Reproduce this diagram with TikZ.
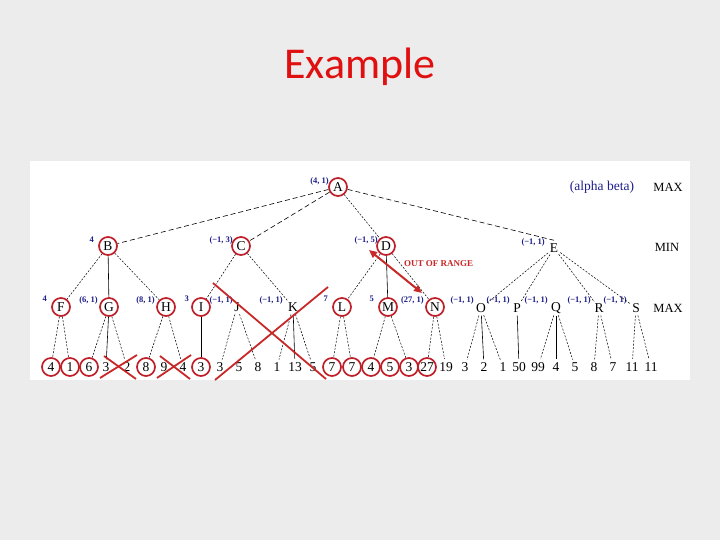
\documentclass[tikz,border=0pt]{standalone}
\usepackage{fontspec}
\setmainfont{Liberation Serif}
\newfontfamily\titlefont{Carlito}
\usetikzlibrary{arrows.meta}
\definecolor{bgc}{RGB}{236,236,236}
\definecolor{titlered}{RGB}{224,16,16}
\definecolor{ringred}{RGB}{190,30,40}
\definecolor{lblblue}{RGB}{30,30,140}
\definecolor{crossred}{RGB}{200,40,40}
\begin{document}
\begin{tikzpicture}[x=1pt,y=-1pt,
  circ/.style={circle,draw=ringred,line width=1.7pt,minimum size=18pt,inner sep=0pt,font=\fontsize{13.5}{13.5}\selectfont},
  plain/.style={circle,minimum size=15pt,inner sep=0pt,font=\fontsize{13.5}{13.5}\selectfont},
  lbl/.style={text=lblblue,font=\fontsize{8.5}{8.5}\selectfont\bfseries,inner sep=0pt},
  side/.style={font=\fontsize{12.5}{12.5}\selectfont,inner sep=0pt},
  ed/.style={draw,line width=0.5pt,dash pattern=on 2pt off 1.5pt},
  edl/.style={draw,line width=0.6pt,dash pattern=on 5pt off 3pt},
  eds/.style={draw,line width=0.6pt},
  crossline/.style={draw=crossred,line width=1.8pt}]
\useasboundingbox (0,0) rectangle (720,540);
\fill[bgc] (0,0) rectangle (720,540);
\fill[white] (30,161) rectangle (690,380);
\node[font=\titlefont\fontsize{44}{44}\selectfont,text=titlered] (title) at (360,67) {Example};
% level 1
\node[circ] (A) at (338,187) {A};
\node[lbl,anchor=east] (lA) at (329,181) {(4, 1)};
% level 2
\node[circ] (B) at (108,246) {B};
\node[circ] (C) at (241,246) {C};
\node[circ] (D) at (386,246) {D};
\node[plain] (E) at (554,248) {E};
\node[lbl,anchor=east] (lB) at (94,240) {4};
\node[lbl,anchor=east] (lC) at (233,240) {(−1, 3)};
\node[lbl,anchor=east] (lD) at (378,240) {(−1, 5)};
\node[lbl,anchor=east] (lE) at (545,242) {(−1, 1)};
% level 3
\node[circ] (F) at (61,307) {F};
\node[circ] (G) at (109,307) {G};
\node[circ] (H) at (166,307) {H};
\node[circ] (I) at (201,307) {I};
\node[plain] (J) at (237,307) {J};
\node[plain] (K) at (293,307) {K};
\node[circ] (L) at (342,307) {L};
\node[circ] (M) at (388,307) {M};
\node[circ] (N) at (435,307) {N};
\node[plain] (O) at (481,308) {O};
\node[plain] (P) at (517,308) {P};
\node[plain] (Q) at (556,308) {Q};
\node[plain] (R) at (599,308) {R};
\node[plain] (S) at (636,308) {S};
\node[lbl,anchor=east] (lF) at (47,299) {4};
\node[lbl,anchor=east] (lG) at (98,300) {(6, 1)};
\node[lbl,anchor=east] (lH) at (155,300) {(8, 1)};
\node[lbl,anchor=east] (lI) at (189,299) {3};
\node[lbl,anchor=east] (lJ) at (233,300) {(−1, 1)};
\node[lbl,anchor=east] (lK) at (283,300) {(−1, 1)};
\node[lbl,anchor=east] (lL) at (328,299) {7};
\node[lbl,anchor=east] (lM) at (374,299) {5};
\node[lbl,anchor=east] (lN) at (424,300) {(27, 1)};
\node[lbl,anchor=east] (lO) at (474,300) {(−1, 1)};
\node[lbl,anchor=east] (lP) at (510,300) {(−1, 1)};
\node[lbl,anchor=east] (lQ) at (548,300) {(−1, 1)};
\node[lbl,anchor=east] (lR) at (591,300) {(−1, 1)};
\node[lbl,anchor=east] (lS) at (627,300) {(−1, 1)};
% side labels
\node[text=lblblue,font=\fontsize{13.5}{13.5}\selectfont,inner sep=0pt] (ab) at (602,187) {(alpha beta)};
\node[side] (max1) at (668,187) {MAX};
\node[side] (min1) at (667,247) {MIN};
\node[side] (max2) at (668,308) {MAX};
% leaves
\foreach \i/\x/\v/\s in {0/51/4/circ,1/70/1/circ,2/89/6/circ,3/106/3/plain,4/127/2/plain,
  5/146/8/circ,6/164/9/plain,7/183/4/plain,8/201/3/circ,9/220/3/plain,10/239/5/plain,
  11/258/8/plain,12/277/1/plain,13/295/13/plain,14/313/5/plain,15/332/7/circ,16/352/7/circ,
  17/371/4/circ,18/390/5/circ,19/409/3/circ,20/427/27/circ,21/446/19/plain,22/465/3/plain,
  23/484/2/plain,24/503/1/plain,25/519/50/plain,26/538/99/plain,27/556/4/plain,28/575/5/plain,
  29/594/8/plain,30/613/7/plain,31/632/11/plain,32/651/11/plain}
  \node[\s] (l\i) at (\x,367) {\v};
% level 1 -> 2
\draw[edl] (A) -- (B);
\draw[edl] (A) -- (C);
\draw[ed] (A) -- (D);
\draw[edl] (A) -- (E.north);
% level 2 -> 3
\draw[ed] (B) -- (F);
\draw[eds] (B) -- (G);
\draw[ed] (B) -- (H);
\draw[ed] (C) -- (I);
\draw[ed] (C) -- (K);
\draw[ed] (D) -- (L);
\draw[eds] (D) -- (M);
\draw[ed] (D) -- (N);
\draw[ed] (E) -- (O);
\draw[ed] (E) -- (P);
\draw[ed] (E) -- (R);
\draw[ed] (E) -- (S);
% level 3 -> leaves
\draw[ed] (F) -- (l0);
\draw[ed] (F) -- (l1);
\draw[ed] (G) -- (l2);
\draw[eds] (G) -- (l3);
\draw[ed] (G) -- (l4);
\draw[ed] (H) -- (l5);
\draw[ed] (H) -- (l7);
\draw[eds] (I) -- (l8);
\draw[ed] (J) -- (l9);
\draw[ed] (J) -- (l11);
\draw[ed] (K) -- (l12);
\draw[eds] (K) -- (l13);
\draw[ed] (K) -- (l14);
\draw[ed] (L) -- (l15);
\draw[ed] (L) -- (l16);
\draw[ed] (M) -- (l17);
\draw[ed] (M) -- (l19);
\draw[ed] (N) -- (l20);
\draw[ed] (N) -- (l21);
\draw[ed] (O) -- (l22);
\draw[eds] (O) -- (l23);
\draw[ed] (O) -- (l24);
\draw[eds] (P) -- (l25);
\draw[ed] (Q) -- (l26);
\draw[eds] (Q) -- (l27);
\draw[ed] (Q) -- (l28);
\draw[ed] (R) -- (l29);
\draw[ed] (R) -- (l30);
\draw[ed] (S) -- (l31);
\draw[ed] (S) -- (l32);
% crosses
\coordinate (x1a) at (100,378); \coordinate (x1b) at (137,355);
\coordinate (x1c) at (104,356); \coordinate (x1d) at (136,379);
\draw[crossline] (x1a) -- (x1b);
\draw[crossline] (x1c) -- (x1d);
\coordinate (x2a) at (157,378); \coordinate (x2b) at (191,355);
\coordinate (x2c) at (160,356); \coordinate (x2d) at (190,379);
\draw[crossline] (x2a) -- (x2b);
\draw[crossline] (x2c) -- (x2d);
\coordinate (x3a) at (213,283); \coordinate (x3b) at (326,379);
\coordinate (x3c) at (215,380); \coordinate (x3d) at (328,287);
\draw[crossline] (x3a) -- (x3b);
\draw[crossline] (x3c) -- (x3d);
% out of range arrow
\coordinate (ar1) at (369,250); \coordinate (ar2) at (422,293);
\draw[draw=crossred,line width=2pt,{Triangle[length=8pt,width=7pt]}-{Triangle[length=8pt,width=7pt]}] (ar1) -- (ar2);
\node[text=crossred,font=\fontsize{9}{9}\selectfont\bfseries,anchor=west,inner sep=0pt] (oor) at (404,264) {OUT OF RANGE};
\end{tikzpicture}
\end{document}
